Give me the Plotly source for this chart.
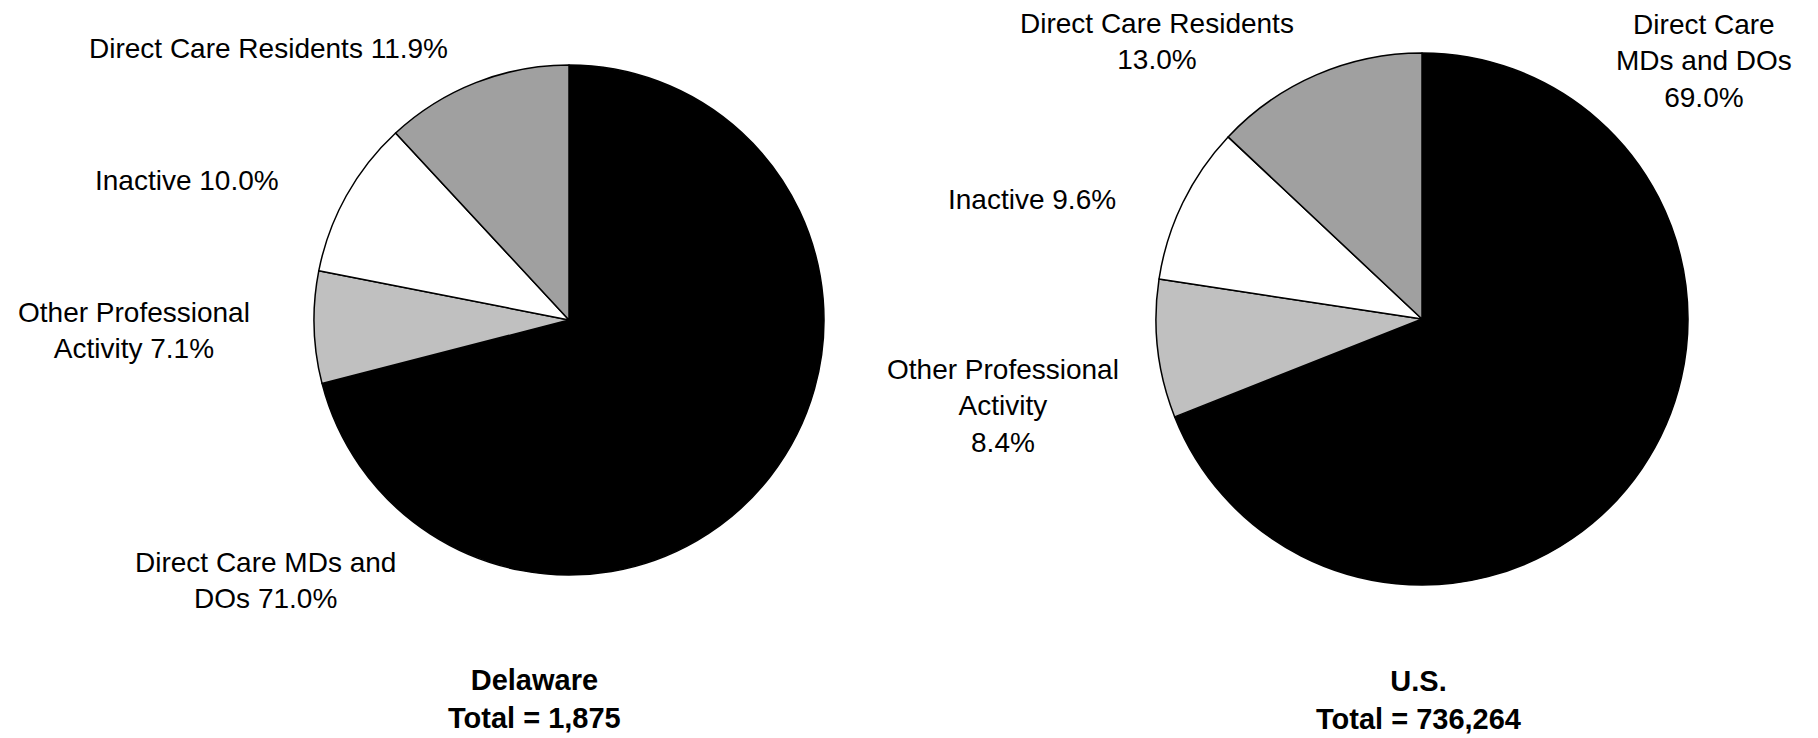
import plotly.graph_objects as go

W, H = 1818, 738

categories = ["Direct Care MDs and DOs", "Other Professional Activity", "Inactive", "Direct Care Residents"]
delaware_values = [71.0, 7.1, 10.0, 11.9]
us_values = [69.0, 8.4, 9.6, 13.0]
slice_colors = ["#000000", "#c0c0c0", "#ffffff", "#a0a0a0"]

delaware_labels = [
    "Direct Care MDs and<br>DOs 71.0%",
    "Other Professional<br>Activity 7.1%",
    "Inactive 10.0%",
    "Direct Care Residents 11.9%",
]
us_labels = [
    "Direct Care<br>MDs and DOs<br>69.0%",
    "Other Professional<br>Activity<br>8.4%",
    "Inactive 9.6%",
    "Direct Care Residents<br>13.0%",
]
delaware_title = "<b>Delaware</b><br><b>Total = 1,875</b>"
us_title = "<b>U.S.</b><br><b>Total = 736,264</b>"

# label positions in pixels (layout only)
delaware_label_pos = [(265, 580), (134, 330), (187, 180), (268, 48)]
us_label_pos = [(1704, 61), (1003, 406), (1032, 200), (1157, 42)]
delaware_title_pos = (534, 699)
us_title_pos = (1418, 700)


def dom(cx, cy, r):
    return dict(x=[(cx - r) / W, (cx + r) / W], y=[1 - (cy + r) / H, 1 - (cy - r) / H])


fig = go.Figure()
fig.add_trace(go.Pie(
    labels=categories, values=delaware_values, sort=False, direction="clockwise", rotation=0,
    marker=dict(colors=slice_colors, line=dict(color="black", width=1.5)),
    textinfo="none", hoverinfo="label+percent", domain=dom(569, 320, 255), showlegend=False,
))
fig.add_trace(go.Pie(
    labels=categories, values=us_values, sort=False, direction="clockwise", rotation=0,
    marker=dict(colors=slice_colors, line=dict(color="black", width=1.5)),
    textinfo="none", hoverinfo="label+percent", domain=dom(1422, 319, 266), showlegend=False,
))

FONT = "Liberation Sans, Arial, sans-serif"
annotations = []
for txt, (px, py) in list(zip(delaware_labels, delaware_label_pos)) + list(zip(us_labels, us_label_pos)):
    annotations.append(dict(text=txt, x=px / W, y=1 - py / H, xref="paper", yref="paper",
                            xanchor="center", yanchor="middle", showarrow=False, align="center",
                            font=dict(family=FONT, size=28, color="black")))
for txt, (px, py) in [(delaware_title, delaware_title_pos), (us_title, us_title_pos)]:
    annotations.append(dict(text=txt, x=px / W, y=1 - py / H, xref="paper", yref="paper",
                            xanchor="center", yanchor="middle", showarrow=False, align="center",
                            font=dict(family=FONT, size=29, color="black")))

fig.update_layout(
    width=W, height=H, margin=dict(l=0, r=0, t=0, b=0),
    paper_bgcolor="white", plot_bgcolor="white",
    annotations=annotations, showlegend=False,
)
fig.write_html("out.html")
